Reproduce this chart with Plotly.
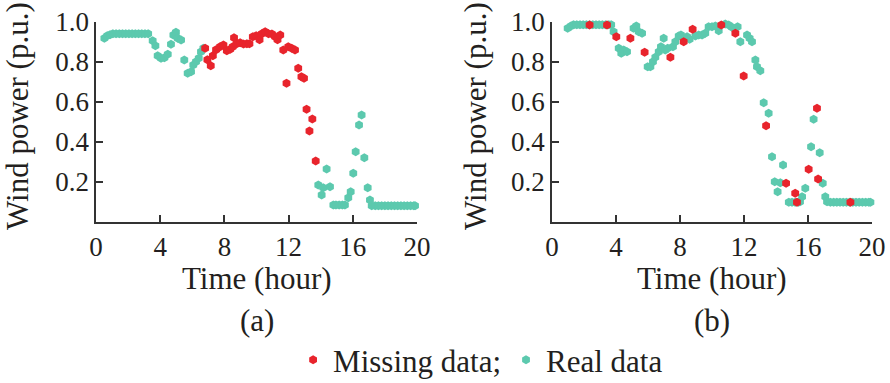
import plotly.graph_objects as go

# ---------------- data ----------------
# Panel (a): real data
a_real_t = [0.52, 0.7, 0.87, 1.05, 1.25, 1.45, 1.65, 1.85, 2.05, 2.25, 2.45, 2.65, 2.85, 3.05, 3.25,
            3.53, 3.7, 3.84, 4.05, 4.26, 4.47, 4.67, 4.82, 4.98, 5.09, 5.3, 5.5, 5.71, 5.92, 6.06,
            6.23, 6.4, 6.54, 6.69,
            13.85, 14.06, 14.16, 14.37, 14.58, 14.79, 14.95, 15.15, 15.35, 15.51, 15.72, 15.87,
            16.03, 16.18, 16.39, 16.55, 16.72, 16.93, 17.07, 17.18, 17.4, 17.6, 17.8, 18.0, 18.2,
            18.4, 18.6, 18.8, 19.0, 19.2, 19.4, 19.6, 19.8, 19.88]
a_real_v = [0.917, 0.93, 0.935, 0.94, 0.94, 0.94, 0.94, 0.94, 0.94, 0.94, 0.94, 0.94, 0.94, 0.94, 0.94,
            0.905, 0.88, 0.83, 0.817, 0.82, 0.837, 0.887, 0.933, 0.947, 0.917, 0.908, 0.808, 0.742, 0.75, 0.783,
            0.8, 0.817, 0.85, 0.867,
            0.183, 0.133, 0.17, 0.263, 0.175, 0.083, 0.083, 0.083, 0.083, 0.083, 0.12, 0.15,
            0.242, 0.35, 0.483, 0.533, 0.32, 0.17, 0.108, 0.08, 0.08, 0.08, 0.08, 0.08, 0.08,
            0.08, 0.08, 0.08, 0.08, 0.08, 0.08, 0.08, 0.08, 0.08]

# Panel (a): missing data
a_miss_t = [6.8, 6.94, 7.15, 7.28, 7.48, 7.73, 7.94, 8.15, 8.36, 8.52, 8.6, 8.77, 8.98, 9.19, 9.4,
            9.56, 9.77, 9.98, 10.19, 10.33, 10.54, 10.75, 10.96, 11.16, 11.31, 11.48, 11.67, 11.87,
            11.98, 12.19, 12.4, 12.6, 12.8, 12.96, 13.12, 13.3, 13.48, 13.69]
a_miss_v = [0.867, 0.81, 0.78, 0.83, 0.86, 0.875, 0.883, 0.855, 0.862, 0.875, 0.92, 0.89, 0.895, 0.888, 0.89,
            0.89, 0.925, 0.93, 0.91, 0.94, 0.95, 0.94, 0.938, 0.925, 0.91, 0.933, 0.858, 0.692,
            0.875, 0.867, 0.858, 0.767, 0.725, 0.717, 0.562, 0.453, 0.513, 0.303]

# Panel (b): real data
b_real_t = [0.98, 1.19, 1.35, 1.55, 1.75, 1.95, 2.15, 2.35, 2.55, 2.75, 2.95, 3.15, 3.35, 3.55, 3.7,
            3.85, 4.17, 4.33, 4.48, 4.69, 5.1, 5.27, 5.42, 5.63, 5.98, 6.15, 6.31, 6.46, 6.67, 6.81,
            6.98, 7.08, 7.23, 7.56, 7.71, 7.92, 8.06, 8.44, 8.6, 8.96, 9.17, 9.38, 9.58, 9.79, 10.0,
            10.21, 10.42, 10.83, 11.04, 11.25, 11.6, 11.77, 12.19, 12.35, 12.5, 12.71, 12.81, 13.02,
            13.23, 13.54, 13.75, 13.92, 14.1, 14.27, 14.44, 14.8, 15.0, 15.2, 15.4, 15.5, 15.63,
            15.83, 16.19, 16.35, 16.73, 16.92, 17.08, 17.19, 17.4, 17.6, 17.8, 18.0, 18.2, 18.4,
            18.6, 18.8, 19.0, 19.2, 19.4, 19.6, 19.8, 19.9]
b_real_v = [0.967, 0.978, 0.985, 0.985, 0.985, 0.985, 0.985, 0.985, 0.985, 0.985, 0.985, 0.985, 0.985, 0.985, 0.985,
            0.95, 0.867, 0.842, 0.858, 0.85, 0.967, 0.978, 0.95, 0.942, 0.775, 0.775, 0.8, 0.822, 0.85, 0.875,
            0.917, 0.858, 0.867, 0.875, 0.9, 0.928, 0.933, 0.925, 0.912, 0.928, 0.933, 0.933, 0.942, 0.975, 0.975,
            0.978, 0.955, 0.988, 0.983, 0.972, 0.975, 0.9, 0.933, 0.917, 0.9, 0.808, 0.775, 0.755,
            0.595, 0.542, 0.325, 0.2, 0.15, 0.195, 0.283, 0.097, 0.097, 0.097, 0.097, 0.1, 0.125,
            0.167, 0.375, 0.512, 0.345, 0.192, 0.125, 0.1, 0.097, 0.097, 0.097, 0.097, 0.097, 0.097,
            0.097, 0.097, 0.097, 0.097, 0.097, 0.097, 0.097, 0.097]

# Panel (b): missing data
b_miss_t = [2.35, 3.44, 4.02, 4.9, 5.79, 7.4, 8.23, 8.79, 10.58, 11.46, 11.98, 13.38, 14.63,
            15.2, 15.31, 16.04, 16.56, 16.63, 18.65]
b_miss_v = [0.983, 0.983, 0.925, 0.917, 0.847, 0.822, 0.9, 0.962, 0.983, 0.942, 0.728, 0.48, 0.192,
            0.142, 0.097, 0.262, 0.567, 0.213, 0.097]

x_ticks = [0, 4, 8, 12, 16, 20]
y_ticks = [0.2, 0.4, 0.6, 0.8, 1.0]
y_ticktext = ["0.2", "0.4", "0.6", "0.8", "1.0"]

RED = "#E8242C"
TEAL = "#5CC9AE"
FONT = "Liberation Serif"
TXT = "#231F20"

fig = go.Figure()
mk = dict(symbol="hexagon", size=9, line=dict(width=0))

fig.add_trace(go.Scatter(x=a_real_t, y=a_real_v, mode="markers", name="Real data",
                         marker=dict(color=TEAL, **mk), xaxis="x", yaxis="y",
                         legendrank=2, legendgroup="real", cliponaxis=False))
fig.add_trace(go.Scatter(x=a_miss_t, y=a_miss_v, mode="markers", name="Missing data;",
                         marker=dict(color=RED, **mk), xaxis="x", yaxis="y",
                         legendrank=1, legendgroup="miss", cliponaxis=False))
fig.add_trace(go.Scatter(x=b_real_t, y=b_real_v, mode="markers", name="Real data",
                         marker=dict(color=TEAL, **mk), xaxis="x2", yaxis="y2",
                         showlegend=False, legendgroup="real", cliponaxis=False))
fig.add_trace(go.Scatter(x=b_miss_t, y=b_miss_v, mode="markers", name="Missing data;",
                         marker=dict(color=RED, **mk), xaxis="x2", yaxis="y2",
                         showlegend=False, legendgroup="miss", cliponaxis=False))

xax = dict(range=[0, 20], tickvals=x_ticks, ticks="inside", ticklen=7, tickwidth=1.5,
           tickcolor="#333", showline=True, linecolor="#333", linewidth=1.5,
           showgrid=False, zeroline=False, automargin=False,
           tickfont=dict(family=FONT, size=27, color=TXT))
yax = dict(range=[0, 1.0], tickvals=y_ticks, ticktext=y_ticktext, ticks="inside", ticklen=7,
           tickwidth=1.5, tickcolor="#333", showline=True, linecolor="#333", linewidth=1.5,
           showgrid=False, zeroline=False, automargin=False,
           tickfont=dict(family=FONT, size=27, color=TXT))

ydom = [0.4211, 0.9433]
fig.update_layout(
    width=890, height=383,
    margin=dict(l=0, r=0, t=0, b=0, autoexpand=False),
    paper_bgcolor="white", plot_bgcolor="white",
    xaxis=dict(domain=[0.1079, 0.4685], anchor="y", **xax),
    yaxis=dict(domain=ydom, anchor="x", **yax),
    xaxis2=dict(domain=[0.6202, 0.9798], anchor="y2", **xax),
    yaxis2=dict(domain=ydom, anchor="x2", **yax),
    showlegend=True,
    legend=dict(orientation="h", x=0.54, xanchor="center", y=0.06, yanchor="middle",
                font=dict(family=FONT, size=31, color=TXT), itemwidth=30,
                bgcolor="rgba(0,0,0,0)", tracegroupgap=0),
)

ann_font = dict(family=FONT, size=31, color=TXT)
annots = [
    dict(text="Wind power (p.u.)", x=18 / 890, y=(383 - 116) / 383, textangle=-90),
    dict(text="Wind power (p.u.)", x=476 / 890, y=(383 - 116) / 383, textangle=-90),
    dict(text="Time (hour)", x=256.5 / 890, y=(383 - 278) / 383),
    dict(text="Time (hour)", x=712 / 890, y=(383 - 278) / 383),
    dict(text="(a)", x=256.5 / 890, y=(383 - 320) / 383),
    dict(text="(b)", x=712 / 890, y=(383 - 320) / 383),
]
for a in annots:
    fig.add_annotation(xref="paper", yref="paper", showarrow=False, xanchor="center",
                       yanchor="middle", font=ann_font, **a)

fig.write_html("out.html", config={"displayModeBar": False},
               post_script="document.body.style.margin='0';document.body.style.overflow='hidden';")
